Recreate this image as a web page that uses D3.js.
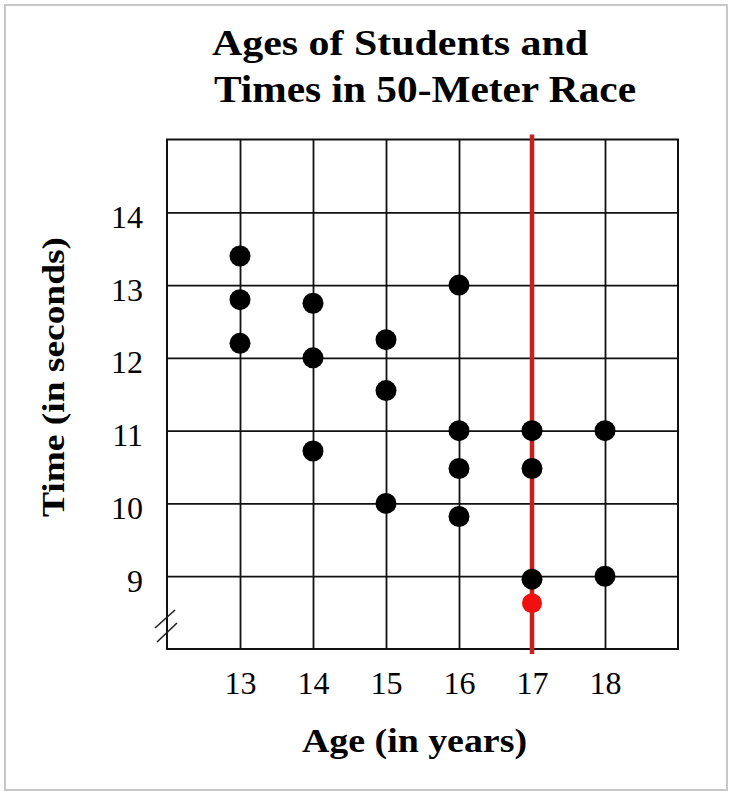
<!DOCTYPE html>
<html>
<head>
<meta charset="utf-8">
<script src="https://cdn.jsdelivr.net/npm/d3@7"></script>
<style>
  html, body { margin: 0; padding: 0; background: #fff; }
  svg { display: block; }
  text { font-family: "Liberation Serif", "Times New Roman", serif; fill: #000; }
</style>
</head>
<body>
<svg id="chart" width="730" height="795"></svg>
<script>
// ---- Data ----
const titleLines = ["Ages of Students and", "Times in 50-Meter Race"];
const xTitle = "Age (in years)";
const yTitle = "Time (in seconds)";
const ageTicks = [13, 14, 15, 16, 17, 18];
const timeTicks = [9, 10, 11, 12, 13, 14];
const ages  = [13, 13, 13, 14, 14, 14, 15, 15, 15, 16, 16, 16, 16, 17, 17, 17, 18, 18];
const times = [13.4, 12.8, 12.2, 12.75, 12.0, 10.72, 12.25, 11.55, 10.0, 13.0, 11.0, 10.48, 9.82, 11.0, 10.48, 8.96, 11.0, 9.0];
const highlightAge = [17];
const newPointAge = [17];
const newPointTime = [8.63];
const xDomain = [12, 19];
const yDomain = [8, 15];

// ---- Layout ----
const svg = d3.select("#chart");
const L = 167, R = 678, T = 139.5, B = 649;
const x = d3.scaleLinear().domain(xDomain).range([L, R]);
const y = d3.scaleLinear().domain(yDomain).range([B, T]);

// page frame
svg.append("rect")
  .attr("x", 5).attr("y", 5).attr("width", 722).attr("height", 785)
  .attr("fill", "none").attr("stroke", "#c8c8c8").attr("stroke-width", 2);

// title
svg.append("text").attr("x", 212).attr("y", 55)
  .attr("font-size", 36).attr("font-weight", "bold")
  .attr("textLength", 376).attr("lengthAdjust", "spacingAndGlyphs")
  .text(titleLines[0]);
svg.append("text").attr("x", 214).attr("y", 101.5)
  .attr("font-size", 37).attr("font-weight", "bold")
  .attr("textLength", 422).attr("lengthAdjust", "spacingAndGlyphs")
  .text(titleLines[1]);

// grid + axes
const gx = svg.append("g").attr("transform", `translate(0,${B})`)
  .call(d3.axisBottom(x).tickValues(ageTicks).tickSize(-(B - T)).tickSizeOuter(0).tickFormat(d3.format("d")));
gx.select(".domain").remove();
gx.selectAll(".tick line").attr("stroke", "#111").attr("stroke-width", 1.8);
gx.selectAll(".tick text")
  .attr("y", 45).attr("dy", null)
  .attr("font-size", 32).attr("font-family", "Liberation Serif, serif")
  .attr("fill", "#000");

const gy = svg.append("g").attr("transform", `translate(${L},0)`)
  .call(d3.axisLeft(y).tickValues(timeTicks).tickSize(-(R - L)).tickSizeOuter(0).tickFormat(d3.format("d")));
gy.select(".domain").remove();
gy.selectAll(".tick line").attr("stroke", "#111").attr("stroke-width", 1.8);
gy.selectAll(".tick text")
  .attr("x", -24).attr("dy", "0.47em")
  .attr("font-size", 32).attr("font-family", "Liberation Serif, serif")
  .attr("fill", "#000");

// plot frame
svg.append("rect")
  .attr("x", x(xDomain[0])).attr("y", y(yDomain[1]))
  .attr("width", x(xDomain[1]) - x(xDomain[0])).attr("height", y(yDomain[0]) - y(yDomain[1]))
  .attr("fill", "none").attr("stroke", "#111").attr("stroke-width", 2);

// axis break marks
const bx = x(xDomain[0]), by = y(yDomain[0]);
[[-12, -21, 8, -39], [-10, -7, 10, -26]].forEach(d => {
  svg.append("line")
    .attr("x1", bx + d[0]).attr("y1", by + d[1])
    .attr("x2", bx + d[2]).attr("y2", by + d[3])
    .attr("stroke", "#222").attr("stroke-width", 1.6);
});

// red vertical line
svg.selectAll(".hl").data(highlightAge).enter().append("line")
  .attr("class", "hl")
  .attr("x1", d => x(d)).attr("x2", d => x(d))
  .attr("y1", y(yDomain[1]) - 5).attr("y2", y(yDomain[0]) + 5)
  .attr("stroke", "#c8201e").attr("stroke-width", 4.5);

// points
svg.selectAll(".pt").data(ages.map((a, i) => [a, times[i]])).enter().append("circle")
  .attr("class", "pt")
  .attr("cx", d => x(d[0])).attr("cy", d => y(d[1])).attr("r", 10.5)
  .attr("fill", "#000");

svg.selectAll(".np").data(newPointAge.map((a, i) => [a, newPointTime[i]])).enter().append("circle")
  .attr("class", "np")
  .attr("cx", d => x(d[0])).attr("cy", d => y(d[1])).attr("r", 10)
  .attr("fill", "#f01010");

// axis titles
svg.append("text").attr("x", 302).attr("y", 752)
  .attr("font-size", 33).attr("font-weight", "bold")
  .attr("textLength", 225).attr("lengthAdjust", "spacingAndGlyphs")
  .text(xTitle);
svg.append("text")
  .attr("transform", "translate(64,517) rotate(-90)")
  .attr("font-size", 32).attr("font-weight", "bold")
  .attr("textLength", 280).attr("lengthAdjust", "spacingAndGlyphs")
  .text(yTitle);
</script>
</body>
</html>
